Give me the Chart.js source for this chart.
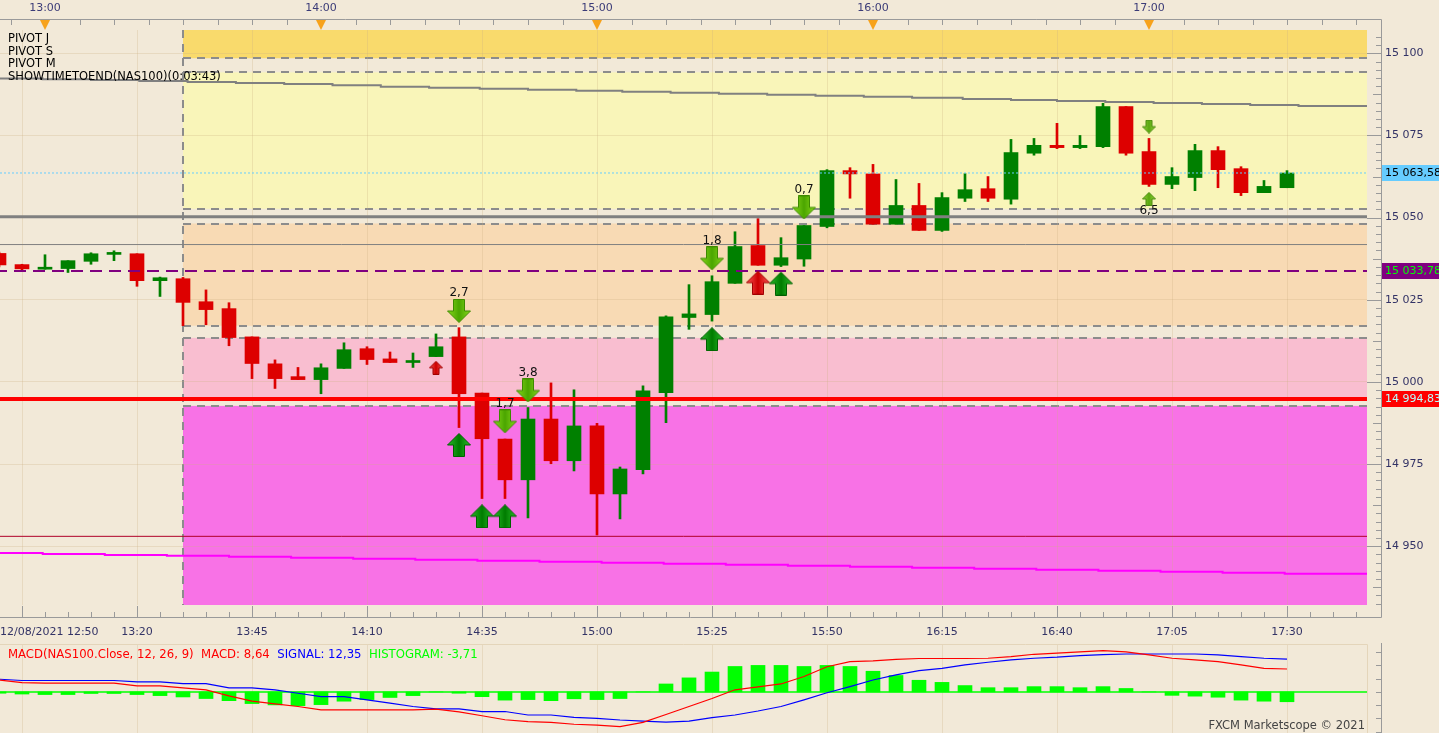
<!DOCTYPE html>
<html>
<head>
<meta charset="utf-8">
<title>NAS100 5 min</title>
<script src="https://cdn.jsdelivr.net/npm/chart.js@4.4.1/dist/chart.umd.min.js"></script>
<style>
  body { margin: 0; background: #f2e9d8; }
  #wrap { position: relative; width: 1439px; height: 733px; overflow: hidden; font-family: "DejaVu Sans", sans-serif; }
  canvas { position: absolute; left: 0; }
  #main { top: 0; }
  #macd { top: 643px; }
  .txt { position: absolute; white-space: nowrap; }
  #legend { left: 8px; top: 32px; font-size: 11.5px; line-height: 12.7px; color: #000; }
  #macdTitle { left: 8px; top: 647px; font-size: 11.7px; }
  #copy { right: 74px; top: 718px; font-size: 11.5px; color: #444; }
</style>
</head>
<body>
<div id="wrap">
  <canvas id="main" width="1439" height="643"></canvas>
  <canvas id="macd" width="1439" height="90"></canvas>
  <div id="legend" class="txt">PIVOT J<br>PIVOT S<br>PIVOT M<br>SHOWTIMETOEND(NAS100)(0:03:43)</div>
  <div id="macdTitle" class="txt"><span style="color:#f00">MACD(NAS100.Close, 12, 26, 9)&nbsp; MACD: 8,64</span>&nbsp; <span style="color:#00f">SIGNAL: 12,35</span>&nbsp; <span style="color:#0f0">HISTOGRAM: -3,71</span></div>
  <div id="copy" class="txt">FXCM Marketscope © 2021</div>
</div>
<script>
// 5 minute bars, 12:50 .. 17:30 (x value = bar number)
const opens = [15039.1, 15035.7, 15034.3, 15034.5, 15036.7, 15038.8, 15039.0, 15030.8, 15031.4, 15024.4,
  15022.3, 15013.7, 15005.5, 15001.6, 15000.7, 15004.1, 15010.1, 15007.0, 15005.9, 15007.7,
  15013.7, 14996.6, 14982.6, 14970.2, 14988.7, 14976.0, 14986.6, 14965.9, 14973.3, 14996.7,
  15019.6, 15020.5, 15030.0, 15041.5, 15035.5, 15037.4, 15047.3, 15064.3, 15063.3, 15048.0,
  15053.7, 15046.1, 15055.9, 15058.8, 15055.6, 15069.6, 15072.0, 15071.3, 15071.6, 15083.8,
  15070.1, 15060.1, 15062.2, 15070.4, 15064.9, 15057.6, 15059.1];
const highs = [15039.5, 15035.8, 15038.7, 15036.9, 15039.3, 15039.9, 15039.0, 15031.9, 15031.8, 15028.0,
  15024.1, 15013.7, 15006.7, 15004.4, 15005.5, 15011.9, 15010.7, 15009.1, 15008.8, 15014.6,
  15016.5, 14996.6, 14982.6, 14992.2, 14999.7, 14997.6, 14987.4, 14974.1, 14998.8, 15020.1,
  15029.6, 15032.3, 15045.7, 15049.7, 15043.9, 15047.6, 15064.6, 15065.2, 15066.2, 15061.6,
  15060.4, 15057.6, 15063.4, 15062.5, 15073.8, 15074.1, 15078.7, 15075.0, 15084.8, 15083.8,
  15074.1, 15065.2, 15072.3, 15071.6, 15065.5, 15061.3, 15064.3];
const lows = [15035.0, 15033.8, 15034.3, 15033.3, 15035.8, 15036.9, 15029.1, 15026.0, 15017.1, 15017.4,
  15011.0, 15001.0, 14998.0, 15000.7, 14996.4, 15004.1, 15005.3, 15005.9, 15004.4, 15007.7,
  14986.1, 14964.5, 14964.5, 14958.6, 14975.1, 14972.9, 14953.4, 14958.3, 14972.0, 14987.6,
  15016.0, 15018.5, 15030.0, 15035.5, 15035.1, 15035.2, 15046.9, 15055.9, 15048.0, 15048.0,
  15046.1, 15045.8, 15054.9, 15054.9, 15054.1, 15069.0, 15071.0, 15071.0, 15071.3, 15069.0,
  15059.5, 15058.8, 15058.2, 15059.1, 15056.7, 15057.6, 15059.1];
const closes = [15035.6, 15034.4, 15034.7, 15036.9, 15039.0, 15039.3, 15030.8, 15031.7, 15024.2, 15022.0,
  15013.5, 15005.6, 15001.0, 15000.7, 15004.3, 15009.8, 15006.8, 15005.9, 15006.4, 15010.7,
  14996.4, 14982.7, 14970.2, 14988.7, 14976.0, 14986.6, 14965.9, 14973.5, 14997.3, 15019.8,
  15020.7, 15030.5, 15041.2, 15035.5, 15037.8, 15047.6, 15064.3, 15063.3, 15048.0, 15053.7,
  15046.1, 15056.1, 15058.5, 15055.9, 15069.8, 15072.0, 15071.3, 15072.0, 15083.8, 15069.6,
  15060.1, 15062.5, 15070.4, 15064.6, 15057.6, 15059.5, 15063.58];

// MACD(12, 26, 9)
const macdLine = [4.5, 3.5, 3.3, 3.3, 3.3, 3.3, 2.3, 2.3, 1.5, 0.8,
  -1.5, -3.5, -4.5, -5.5, -6.8, -6.8, -6.8, -6.8, -6.8, -6.5,
  -7.5, -9.0, -10.5, -11.2, -11.5, -12.2, -12.5, -13.1, -11.5, -8.5,
  -5.5, -2.5, 0.8, 1.9, 3.0, 5.8, 9.5, 11.4, 11.7, 12.3,
  12.6, 12.6, 12.6, 12.7, 13.3, 14.2, 14.6, 15.1, 15.6, 15.1,
  14.0, 12.7, 12.1, 11.4, 10.2, 8.9, 8.64];
const signalLine = [4.8, 4.3, 4.3, 4.3, 4.3, 4.3, 3.8, 3.8, 3.1, 3.1,
  1.5, 1.5, 0.8, -0.5, -1.8, -1.8, -3.0, -4.2, -5.5, -6.4,
  -6.4, -7.4, -7.4, -8.7, -8.7, -9.6, -10.0, -10.6, -11.0, -11.4,
  -11.0, -9.7, -8.7, -7.2, -5.5, -3.0, -0.3, 2.0, 4.5, 6.4,
  8.0, 8.9, 10.2, 11.2, 12.1, 12.7, 13.1, 13.7, 14.1, 14.3,
  14.3, 14.3, 14.3, 14.0, 13.3, 12.7, 12.35];
const histogram = [-0.5, -0.8, -1.0, -1.0, -0.6, -0.6, -1.0, -1.4, -1.9, -2.5,
  -3.3, -4.4, -4.9, -5.2, -4.8, -3.5, -2.9, -2.1, -1.4, 0,
  -0.5, -1.8, -3.1, -2.9, -3.3, -2.6, -2.9, -2.5, 0, 3.0,
  5.3, 7.5, 9.6, 10.0, 10.0, 9.6, 10.0, 9.6, 7.8, 6.2,
  4.4, 3.6, 2.4, 1.6, 1.6, 2.0, 2.0, 1.6, 2.0, 1.3,
  0, -1.3, -1.6, -2.0, -3.1, -3.5, -3.71];

// axis labels
const hourIdx = [2, 14, 26, 38, 50];
const hourLabels = ['13:00', '14:00', '15:00', '16:00', '17:00'];
const timeIdx = [1, 6, 11, 16, 21, 26, 31, 36, 41, 46, 51, 56];
const timeLabels = ['', '13:20', '13:45', '14:10', '14:35', '15:00', '15:25', '15:50', '16:15', '16:40', '17:05', '17:30'];
const dateLabel = '12/08/2021 12:50';
const priceTicks = [14950, 14975, 15000, 15025, 15050, 15075, 15100];
const macdTicks = [-15, -10, -5, 0, 5, 10, 15];

// pivot zones, from 13:30 on
const zoneStart = 8;
const zoneTops = [15110, 15094.2, 15048.2, 15013.4, 14992.7];
const zoneBottoms = [15098.5, 15052.7, 15017.1, 14995.3, 14920];
const zoneEdges = [15098.5, 15094.2, 15052.7, 15048.2, 15017.1, 15013.4, 14992.7];

// horizontal levels
const levels = [15050.3, 15041.8, 15033.78, 14994.83, 14953.0, 15063.58];

// stepped averages (bar, price)
const grayIdx = [0, 1.9, 4.0, 6.1, 8.2, 10.3, 12.4, 14.5, 16.6, 18.7, 20.9, 23.0, 25.1, 27.1, 29.2,
  31.3, 33.4, 35.5, 37.6, 39.7, 41.9, 44.0, 46.0, 48.1, 50.2, 52.3, 54.4, 56.5, 58.6, 60];
const grayVals = [15092.57, 15092.33, 15092.09, 15091.87, 15091.57, 15091.26, 15090.96, 15090.66, 15090.26, 15089.83,
  15089.53, 15089.22, 15088.92, 15088.62, 15088.31, 15088.01, 15087.70, 15087.40, 15087.09, 15086.79,
  15086.49, 15086.09, 15085.79, 15085.48, 15085.18, 15084.87, 15084.57, 15084.26, 15083.96, 15083.96];
const magIdx = [0, 1.9, 4.6, 7.3, 10.0, 12.7, 15.4, 18.1, 20.8, 23.5, 26.2, 28.9, 31.6, 34.3,
  37.0, 39.7, 42.4, 45.1, 47.8, 50.5, 53.2, 55.9, 58.6, 60];
const magVals = [14948.29, 14947.90, 14947.59, 14947.29, 14947.08, 14946.77, 14946.47, 14946.16, 14945.86, 14945.55,
  14945.25, 14944.94, 14944.64, 14944.34, 14944.03, 14943.73, 14943.42, 14943.12, 14942.82, 14942.51,
  14942.21, 14941.90, 14941.60, 14941.60];

// signal arrows
const downIdx = [20, 22, 23, 31, 35];
const downPrice = [15021.6, 14988.0, 14997.4, 15037.6, 15053.1];
const upIdx = [20, 21, 22, 31, 34];
const upPrice = [14980.8, 14959.1, 14959.1, 15013.0, 15029.9];
const upRedIdx = [33];
const upRedPrice = [15030.2];
const smallUpRedIdx = [19];
const smallUpRedPrice = [15004.3];
const smallDownIdx = [50];
const smallDownPrice = [15077.7];
const smallUpIdx = [50];
const smallUpPrice = [15055.7];
const arrowTextIdx = [20, 22, 23, 31, 35, 50];
const arrowTextPrice = [15027.2, 14993.3, 15002.7, 15043.0, 15058.5, 15051.9];
const arrowTexts = ['2,7', '1,7', '3,8', '1,8', '0,7', '6,5'];

// price tags on the axis
const tagPrices = [15063.58, 15033.78, 14994.83];
const tagTexts = ['15 063,58', '15 033,78', '14 994,83'];

// ---- styles ----
const GREEN = '#008000', RED = '#dd0000';
const GRID = 'rgba(205,175,130,0.28)';
const AXIS = '#333366';
const zoneColors = ['#f9da6c', '#f9f5b9', '#f8dab4', '#f9bed0', '#f872e6'];
const levelStyles = [
  { color: '#808080', width: 3, dash: [] },
  { color: '#808080', width: 1, dash: [] },
  { color: '#800080', width: 2, dash: [12, 7] },
  { color: '#ff0000', width: 4, dash: [] },
  { color: '#b00028', width: 1, dash: [] },
  { color: '#66ccff', width: 1, dash: [2, 2] }
];
const tagBg = ['#66ccff', '#800080', '#ff0000'];
const tagFg = ['#000000', '#00ff00', '#b8ffff'];

const xMin = 1 / 23, xMax = 1 / 23 + 1367 / 23;
const yMin = 14932.1, yMax = 15107.1;

Chart.defaults.font.family = '"DejaVu Sans", sans-serif';
Chart.defaults.font.size = 11;
Chart.defaults.color = AXIS;
Chart.defaults.animation = false;

const pts = (xs, ys) => xs.map((x, k) => ({ x: x, y: ys[k] }));

function arrowImage(w, h, up, light, dark, edge) {
  const c = document.createElement('canvas');
  c.width = w; c.height = h;
  const g = c.getContext('2d');
  const sw = Math.round(w * 0.46), sx = (w - sw) / 2, hh = Math.round(h * 0.5);
  g.beginPath();
  if (up) {
    g.moveTo(w / 2, 0.5); g.lineTo(w - 0.5, hh); g.lineTo(sx + sw, hh); g.lineTo(sx + sw, h - 0.5);
    g.lineTo(sx, h - 0.5); g.lineTo(sx, hh); g.lineTo(0.5, hh);
  } else {
    g.moveTo(sx, 0.5); g.lineTo(sx + sw, 0.5); g.lineTo(sx + sw, h - hh); g.lineTo(w - 0.5, h - hh);
    g.lineTo(w / 2, h - 0.5); g.lineTo(0.5, h - hh); g.lineTo(sx, h - hh);
  }
  g.closePath();
  const grad = g.createLinearGradient(0, 0, w, 0);
  grad.addColorStop(0, light); grad.addColorStop(0.5, dark); grad.addColorStop(1, light);
  g.fillStyle = grad; g.fill();
  g.strokeStyle = edge; g.lineWidth = 1; g.stroke();
  return c;
}
const imgDown = arrowImage(24, 24, false, '#8ada1c', '#4ba600', '#3d8a00');
const imgUp = arrowImage(24, 24, true, '#2cbf2c', '#007c00', '#006000');
const imgUpRed = arrowImage(24, 24, true, '#ff5a5a', '#cc0000', '#a00000');
const imgSmallUpRed = arrowImage(14, 14, true, '#ff5a5a', '#cc0000', '#a00000');
const imgSmallDown = arrowImage(14, 14, false, '#9ad83a', '#5aa810', '#4a8a10');
const imgSmallUp = arrowImage(14, 14, true, '#9ad83a', '#5aa810', '#4a8a10');

const candleColors = opens.map((o, i) => closes[i] >= o ? GREEN : RED);

const arrowSet = (xs, ys, img) => ({
  type: 'line', data: pts(xs, ys), showLine: false, pointStyle: img, pointRadius: 1, order: 0
});

const pivotZones = {
  id: 'pivotZones',
  beforeDraw(chart) {
    const { ctx, chartArea: a, scales: { x, y } } = chart;
    const x0 = Math.round(x.getPixelForValue(zoneStart));
    ctx.save();
    ctx.beginPath(); ctx.rect(a.left, a.top, a.width, a.height); ctx.clip();
    zoneTops.forEach((top, k) => {
      const y0 = y.getPixelForValue(top), y1 = y.getPixelForValue(zoneBottoms[k]);
      ctx.fillStyle = zoneColors[k];
      ctx.fillRect(x0, y0, a.right - x0, y1 - y0);
    });
    ctx.strokeStyle = '#8c8c8c'; ctx.lineWidth = 2; ctx.setLineDash([8, 6]);
    zoneEdges.forEach(v => {
      const yy = Math.round(y.getPixelForValue(v));
      ctx.beginPath(); ctx.moveTo(x0, yy); ctx.lineTo(a.right, yy); ctx.stroke();
    });
    ctx.beginPath(); ctx.moveTo(x0, a.top); ctx.lineTo(x0, a.bottom); ctx.stroke();
    ctx.restore();
  }
};

const arrowLabels = {
  id: 'arrowLabels',
  afterDatasetsDraw(chart) {
    const { ctx, scales: { x, y } } = chart;
    ctx.save();
    ctx.font = '12px "DejaVu Sans"'; ctx.fillStyle = '#111';
    ctx.textAlign = 'center'; ctx.textBaseline = 'middle';
    arrowTextIdx.forEach((v, k) => ctx.fillText(arrowTexts[k], x.getPixelForValue(v), y.getPixelForValue(arrowTextPrice[k])));
    ctx.restore();
  }
};

const frame = {
  id: 'frame',
  afterDraw(chart) {
    const { ctx, chartArea: a, scales: { x, y } } = chart;
    const axisX = a.right + 14, topY = a.top - 11, botY = a.bottom + 12;
    ctx.save();
    ctx.strokeStyle = '#9a9a9a'; ctx.lineWidth = 1;
    ctx.beginPath();
    ctx.moveTo(0, topY + 0.5); ctx.lineTo(axisX + 0.5, topY + 0.5);
    ctx.lineTo(axisX + 0.5, botY + 0.5); ctx.lineTo(0, botY + 0.5);
    for (let v = 0.5; v < x.max; v += 1.5) {
      const px = Math.round(x.getPixelForValue(v)) + 0.5;
      ctx.moveTo(px, topY); ctx.lineTo(px, topY + 6);
    }
    for (let v = 0; v < x.max; v++) {
      const px = Math.round(x.getPixelForValue(v)) + 0.5;
      ctx.moveTo(px, botY); ctx.lineTo(px, botY - (timeIdx.includes(v) ? 11 : 5));
    }
    for (let k = 0; ; k++) {
      const v = 14932.5 + 2.5 * k;
      if (v > y.max) break;
      const py = Math.round(y.getPixelForValue(v)) + 0.5;
      const len = v % 25 === 0 ? 14 : (v % 12.5 === 0 ? 8 : 5);
      ctx.moveTo(axisX, py); ctx.lineTo(axisX - len, py);
    }
    ctx.stroke();
    ctx.fillStyle = '#f7a21b';
    hourIdx.forEach(v => {
      const px = x.getPixelForValue(v);
      ctx.beginPath(); ctx.moveTo(px - 5, topY + 1); ctx.lineTo(px + 5, topY + 1); ctx.lineTo(px, topY + 11);
      ctx.closePath(); ctx.fill();
    });
    ctx.font = '11px "DejaVu Sans"'; ctx.textBaseline = 'middle'; ctx.textAlign = 'left';
    tagPrices.forEach((v, k) => {
      const py = Math.round(y.getPixelForValue(v));
      ctx.fillStyle = tagBg[k];
      ctx.fillRect(axisX + 1, py - 8, chart.width - axisX, 16);
      ctx.fillStyle = tagFg[k];
      ctx.fillText(tagTexts[k], axisX + 4, py + 0.5);
    });
    ctx.restore();
  }
};

new Chart(document.getElementById('main'), {
  type: 'bar',
  data: {
    datasets: [
      {
        data: opens.map((o, i) => ({ x: i, y: [lows[i], highs[i]] })),
        backgroundColor: candleColors, barThickness: 2, grouped: false, order: 6
      },
      {
        data: opens.map((o, i) => ({ x: i, y: [o, closes[i]] })),
        backgroundColor: candleColors, barThickness: 14, grouped: false, minBarLength: 2, order: 5
      },
      {
        type: 'line', data: pts(grayIdx, grayVals), stepped: 'after',
        borderColor: '#808080', borderWidth: 2, pointRadius: 0, order: 3
      },
      {
        type: 'line', data: pts(magIdx, magVals), stepped: 'after',
        borderColor: '#ff00ff', borderWidth: 2, pointRadius: 0, order: 3
      },
      ...levels.map((v, k) => ({
        type: 'line', data: [{ x: -1, y: v }, { x: 61, y: v }],
        borderColor: levelStyles[k].color, borderWidth: levelStyles[k].width,
        borderDash: levelStyles[k].dash, pointRadius: 0, order: 2
      })),
      arrowSet(downIdx, downPrice, imgDown),
      arrowSet(upIdx, upPrice, imgUp),
      arrowSet(upRedIdx, upRedPrice, imgUpRed),
      arrowSet(smallUpRedIdx, smallUpRedPrice, imgSmallUpRed),
      arrowSet(smallDownIdx, smallDownPrice, imgSmallDown),
      arrowSet(smallUpIdx, smallUpPrice, imgSmallUp)
    ]
  },
  options: {
    responsive: false,
    events: [],
    layout: { padding: 0, autoPadding: false },
    plugins: { legend: { display: false }, tooltip: { enabled: false } },
    scales: {
      x: {
        type: 'linear', position: 'bottom', min: xMin, max: xMax, offset: false,
        afterBuildTicks: s => { s.ticks = [{ value: xMin }, ...timeIdx.map(v => ({ value: v })), { value: xMax }]; },
        ticks: {
          autoSkip: false, maxRotation: 0, align: 'inner', padding: 21,
          callback: v => v === xMin ? dateLabel : (timeIdx.indexOf(v) >= 0 ? timeLabels[timeIdx.indexOf(v)] : '')
        },
        grid: {
          offset: false, drawTicks: false,
          color: c => (c.tick && timeIdx.includes(c.tick.value)) ? GRID : 'rgba(0,0,0,0)'
        },
        border: { display: false },
        afterFit: s => { s.height = 38; s.paddingLeft = 0; s.paddingRight = 0; }
      },
      x2: {
        type: 'linear', position: 'top', min: xMin, max: xMax, offset: false,
        afterBuildTicks: s => { s.ticks = hourIdx.map(v => ({ value: v })); },
        ticks: {
          autoSkip: false, maxRotation: 0, padding: 7, color: '#3c3c78',
          callback: v => hourLabels[hourIdx.indexOf(v)] || ''
        },
        grid: { display: false },
        border: { display: false },
        afterFit: s => { s.height = 30; s.paddingLeft = 0; s.paddingRight = 0; }
      },
      y: {
        type: 'linear', position: 'right', min: yMin, max: yMax,
        afterBuildTicks: s => { s.ticks = priceTicks.map(v => ({ value: v })); },
        ticks: {
          padding: 18,
          callback: v => { const s = String(Math.round(v)); return s.slice(0, 2) + ' ' + s.slice(2); }
        },
        grid: { drawTicks: false, color: GRID },
        border: { display: false },
        afterFit: s => { s.width = 72; s.paddingTop = 0; s.paddingBottom = 0; }
      }
    }
  },
  plugins: [pivotZones, arrowLabels, frame]
});

const macdFrame = {
  id: 'macdFrame',
  afterDraw(chart) {
    const { ctx, chartArea: a, scales: { y } } = chart;
    const axisX = a.right + 14;
    ctx.save();
    ctx.strokeStyle = '#e4d5ba'; ctx.lineWidth = 1;
    ctx.beginPath();
    ctx.moveTo(0, a.top - 0.5); ctx.lineTo(a.right + 0.5, a.top - 0.5); ctx.lineTo(a.right + 0.5, a.bottom);
    ctx.stroke();
    ctx.strokeStyle = '#9a9a9a';
    ctx.beginPath();
    ctx.moveTo(axisX + 0.5, 0); ctx.lineTo(axisX + 0.5, a.bottom);
    macdTicks.forEach(v => {
      const py = Math.round(y.getPixelForValue(v)) + 0.5;
      ctx.moveTo(axisX, py); ctx.lineTo(axisX - 5, py);
    });
    ctx.stroke();
    ctx.restore();
  }
};

new Chart(document.getElementById('macd'), {
  type: 'bar',
  data: {
    datasets: [
      {
        data: histogram.map((v, i) => ({ x: i, y: v })),
        backgroundColor: '#00ff00', barThickness: 14, grouped: false, order: 4
      },
      {
        type: 'line', data: [{ x: -1, y: 0 }, { x: 61, y: 0 }],
        borderColor: '#00ff00', borderWidth: 1.5, pointRadius: 0, order: 3
      },
      {
        type: 'line', data: macdLine.map((v, i) => ({ x: i, y: v })),
        borderColor: '#ff0000', borderWidth: 1.2, pointRadius: 0, order: 1
      },
      {
        type: 'line', data: signalLine.map((v, i) => ({ x: i, y: v })),
        borderColor: '#0000ff', borderWidth: 1.2, pointRadius: 0, order: 2
      }
    ]
  },
  options: {
    responsive: false,
    events: [],
    layout: { padding: { top: 2 }, autoPadding: false },
    plugins: { legend: { display: false }, tooltip: { enabled: false } },
    scales: {
      x: {
        type: 'linear', min: xMin, max: xMax, offset: false,
        afterBuildTicks: s => { s.ticks = timeIdx.map(v => ({ value: v })); },
        ticks: { display: false },
        grid: { offset: false, drawTicks: false, color: GRID },
        border: { display: false },
        afterFit: s => { s.height = 0; s.paddingLeft = 0; s.paddingRight = 0; }
      },
      y: {
        type: 'linear', position: 'right', min: -15.5, max: 17.7,
        afterBuildTicks: s => { s.ticks = macdTicks.map(v => ({ value: v })); },
        ticks: { padding: 18, callback: v => v === 0 ? '0,00' : '' },
        grid: { display: false },
        border: { display: false },
        afterFit: s => { s.width = 72; s.paddingTop = 0; s.paddingBottom = 0; }
      }
    }
  },
  plugins: [macdFrame]
});
</script>
</body>
</html>
